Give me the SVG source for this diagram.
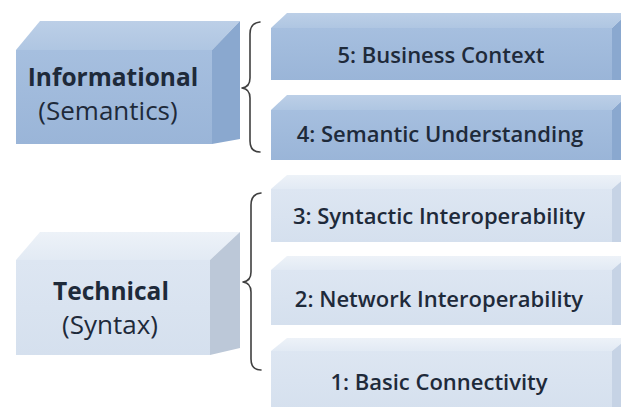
<svg xmlns="http://www.w3.org/2000/svg" width="621" height="407" viewBox="0 0 621 407">
  <defs>
    <linearGradient id="infoFront" x1="0" y1="0" x2="0" y2="1">
      <stop offset="0" stop-color="#a6bfdf"/>
      <stop offset="1" stop-color="#9ab5d8"/>
    </linearGradient>
    <linearGradient id="infoTop" x1="0" y1="1" x2="0" y2="0">
      <stop offset="0" stop-color="#afc6e2"/>
      <stop offset="1" stop-color="#bccfe7"/>
    </linearGradient>
    <linearGradient id="techFront" x1="0" y1="0" x2="0" y2="1">
      <stop offset="0" stop-color="#dde6f2"/>
      <stop offset="1" stop-color="#d5e0ee"/>
    </linearGradient>
    <linearGradient id="techTop" x1="0" y1="1" x2="0" y2="0">
      <stop offset="0" stop-color="#e2eaf4"/>
      <stop offset="1" stop-color="#edf2f8"/>
    </linearGradient>
    <style>
      .infoFront { fill: url(#infoFront); }
      .infoTop { fill: url(#infoTop); }
      .infoSide { fill: #8aa8cf; }
      .techFront { fill: url(#techFront); }
      .techTop { fill: url(#techTop); }
      .techSide { fill: #bcc8d8; }
      .techSideL { fill: #c6d3e5; }
      .lbl { font-family: "Open Sans", "Liberation Sans", sans-serif; fill: #1e2a3a; text-anchor: middle; }
      .bigB { font-size: 24.5px; font-weight: bold; }
      .big { font-size: 26px; }
      .layer { font-size: 22px; font-weight: 600; }
      .brace { fill: none; stroke: #404040; stroke-width: 1.6; stroke-linecap: round; stroke-linejoin: round; }
    </style>
  </defs>

  <rect width="621" height="407" fill="#ffffff"/>

  <!-- category blocks -->
  <g id="informational">
    <polygon class="infoTop" points="16,50 40,21 240,21 212,50"/>
    <polygon class="infoSide" points="212,50 240,21 240,139 212,144"/>
    <rect class="infoFront" x="16" y="50" width="196" height="94"/>
    <text class="lbl bigB" x="113" y="86">Informational</text>
    <text class="lbl big" x="108" y="120">(Semantics)</text>
  </g>

  <g id="technical">
    <polygon class="techTop" points="16,260 40,232 240,232 210,260"/>
    <polygon class="techSide" points="210,260 240,232 240,348 210,355"/>
    <rect class="techFront" x="16" y="260" width="194" height="95"/>
    <text class="lbl bigB" x="111" y="300">Technical</text>
    <text class="lbl big" x="110" y="334">(Syntax)</text>
  </g>

  <!-- layer slabs -->
  <g id="layer5">
    <polygon class="infoTop" points="271,28 287,13 628,13 612,28"/>
    <polygon class="infoSide" points="612,28 628,13 628,80 612,80"/>
    <rect class="infoFront" x="271" y="28" width="341" height="52"/>
    <text class="lbl layer" x="441" y="63">5: Business Context</text>
  </g>

  <g id="layer4">
    <polygon class="infoTop" points="271,110 287,95 628,95 612,110"/>
    <polygon class="infoSide" points="612,110 628,95 628,160 612,160"/>
    <rect class="infoFront" x="271" y="110" width="341" height="50"/>
    <text class="lbl layer" x="440" y="142">4: Semantic Understanding</text>
  </g>

  <g id="layer3">
    <polygon class="techTop" points="271,189 287,175 628,175 612,189"/>
    <polygon class="techSideL" points="612,189 628,175 628,242 612,242"/>
    <rect class="techFront" x="271" y="189" width="341" height="53"/>
    <text class="lbl layer" x="439" y="224">3: Syntactic Interoperability</text>
  </g>

  <g id="layer2">
    <polygon class="techTop" points="271,270 287,256 628,256 612,270"/>
    <polygon class="techSideL" points="612,270 628,256 628,325 612,325"/>
    <rect class="techFront" x="271" y="270" width="341" height="55"/>
    <text class="lbl layer" x="439" y="307">2: Network Interoperability</text>
  </g>

  <g id="layer1">
    <polygon class="techTop" points="271,351 287,338 628,338 612,351"/>
    <polygon class="techSideL" points="612,351 628,338 628,410 612,410"/>
    <rect class="techFront" x="271" y="351" width="341" height="60"/>
    <text class="lbl layer" x="439" y="390">1: Basic Connectivity</text>
  </g>

  <!-- grouping braces -->
  <g id="connectors">
    <path class="brace" d="M260,22 Q250,23 250,34 L250,78 Q250,87 242,88 Q250,89 250,98 L250,141 Q250,152 260,152"/>
    <path class="brace" d="M261,193 Q251,194 251,205 L251,272 Q251,281 243,282 Q251,283 251,292 L251,359 Q251,370 261,370"/>
  </g>
</svg>
